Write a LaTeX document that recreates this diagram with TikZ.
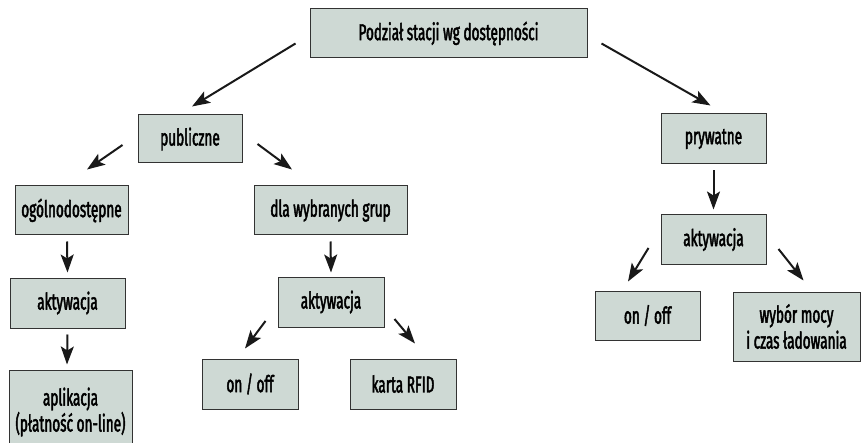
\documentclass[tikz,border=0pt]{standalone}
\usepackage{fontspec}
\setmainfont{Fira Sans}[FakeStretch=0.59, FakeBold=2]
\usetikzlibrary{arrows.meta}
\definecolor{boxfill}{HTML}{CED9D4}
\tikzset{>={Stealth[length=18pt,width=13pt,inset=4pt]}}
\tikzset{
    box/.style={draw=black!80, line width=1pt, fill=boxfill, align=center,
        inner sep=0pt, font=\fontsize{23}{26}\selectfont},
    conn/.style={->, line width=2pt, black!90}
}

\begin{document}
\begin{tikzpicture}[x=1pt, y=1pt]
    \useasboundingbox (0,0) rectangle (861,442);

    \node[box, minimum width=277, minimum height=49] at (448.5,408.5) (top) {Podział stacji wg dostępności};

    \node[box, minimum width=104, minimum height=48] at (190,303) (pub) {publiczne};
    \node[box, minimum width=105, minimum height=50] at (713.5,303) (pryw) {prywatne};

    \node[box, minimum width=113, minimum height=49] at (71.5,231.5) (ogol) {ogólnodostępne};
    \node[box, minimum width=153, minimum height=49] at (330.5,231.5) (grup) {dla wybranych grup};

    \node[box, minimum width=115, minimum height=50] at (67.5,139) (aktL) {aktywacja};
    \node[box, minimum width=106, minimum height=50] at (331,140) (aktM) {aktywacja};
    \node[box, minimum width=105, minimum height=49] at (713.5,202.5) (aktR) {aktywacja};

    \node[box, minimum width=123, minimum height=84] at (70.5,30) (apl) {aplikacja\\(płatność on-line)};
    \node[box, minimum width=96, minimum height=50] at (250,58) (onM) {on / off};
    \node[box, minimum width=106, minimum height=50] at (403,58) (rfid) {karta RFID};
    \node[box, minimum width=105, minimum height=49] at (647.5,126.5) (onR) {on / off};
    \node[box, minimum width=127, minimum height=69] at (796.5,115.5) (moc) {wybór mocy\\i czas ładowania};

    % top level
    \draw[conn] ([shift={(-14,-10)}]top.west) -- ([shift={(2,8)}]pub.north);
    \draw[conn] ([shift={(14,-10)}]top.east) -- ([shift={(-3,8)}]pryw.north);

    % publiczne
    \draw[conn] ([shift={(-15,-6)}]pub.west) -- ([shift={(15.5,16)}]ogol.north);
    \draw[conn] ([shift={(15,-5)}]pub.east) -- ([shift={(-38.5,16)}]grup.north);
    \draw[conn] ([shift={(-4.5,-6)}]ogol.south) -- ([yshift=5]aktL.north);
    \draw[conn] ([yshift=-6]aktL.south) -- ([shift={(-3.5,5)}]apl.north);
    \draw[conn] ([yshift=-6]grup.south) -- ([yshift=4]aktM.north);
    \draw[conn] ([shift={(-12,-19)}]aktM.west) -- ([shift={(-5,10)}]onM.north);
    \draw[conn] ([shift={(10,-17)}]aktM.east) -- ([shift={(12,15)}]rfid.north);

    % prywatne
    \draw[conn] ([yshift=-6]pryw.south) -- ([yshift=5]aktR.north);
    \draw[conn] ([shift={(-12,-8.5)}]aktR.west) -- ([shift={(-19.5,9)}]onR.north);
    \draw[conn] ([shift={(12,-9.5)}]aktR.east) -- ([shift={(7,11)}]moc.north);

\end{tikzpicture}
\end{document}
